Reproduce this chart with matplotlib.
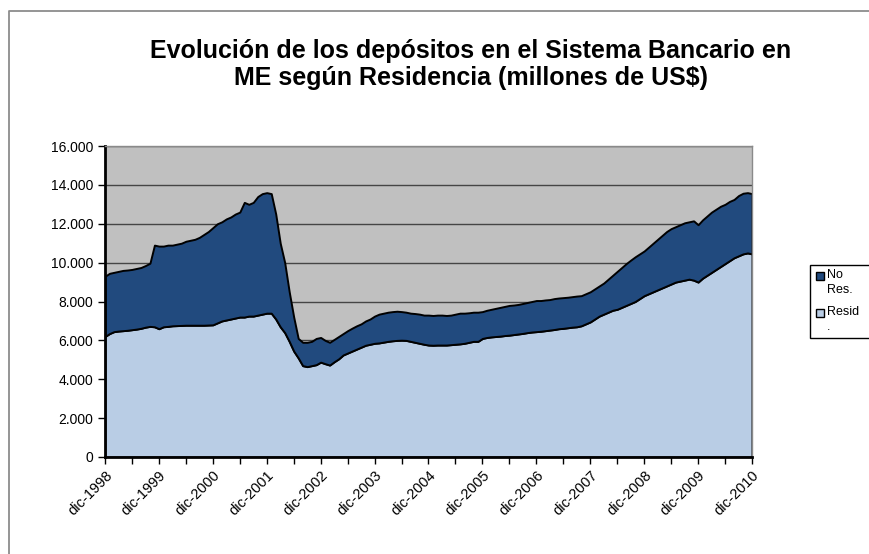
import numpy as np
import pandas as pd
import matplotlib
matplotlib.use("Agg")
import matplotlib.pyplot as plt
from matplotlib.patches import Rectangle
from matplotlib.lines import Line2D

plt.rcParams['font.family'] = ['Liberation Sans', 'DejaVu Sans']

# monthly, dic-1998 .. dic-2010 (millones de US$)
months = pd.date_range("1998-12-01", "2010-12-01", freq="MS")

# total deposits (top of the stack)
total = [9300,
         9450, 9500, 9550, 9600, 9620, 9650, 9700, 9750, 9850, 9970, 10900, 10850,
         10850, 10900, 10900, 10950, 11000, 11100, 11150, 11200, 11300, 11450, 11600, 11800,
         12000, 12100, 12250, 12350, 12500, 12600, 13100, 13000, 13100, 13400, 13550, 13600,
         13550, 12500, 11000, 10000, 8500, 7200, 6100, 5900, 5900, 5950, 6100, 6150,
         6000, 5900, 6050, 6200, 6350, 6500, 6630, 6750, 6850, 7000, 7100, 7250,
         7350, 7400, 7450, 7480, 7500, 7480, 7450, 7400, 7380, 7350, 7300, 7300,
         7280, 7300, 7300, 7280, 7300, 7350, 7400, 7400, 7420, 7450, 7450, 7480,
         7550, 7600, 7650, 7700, 7750, 7800, 7820, 7850, 7900, 7950, 8000, 8050,
         8050, 8080, 8100, 8150, 8180, 8200, 8220, 8250, 8280, 8300, 8400, 8500,
         8650, 8800, 8950, 9150, 9350, 9550, 9750, 9950, 10130, 10300, 10450, 10600,
         10800, 11000, 11200, 11400, 11600, 11750, 11850, 11950, 12050, 12100, 12150, 11950,
         12200, 12400, 12600, 12750, 12900, 13000, 13150, 13250, 13450, 13570, 13600, 13550]

# residents (bottom of the stack)
resid = [6200,
         6350, 6450, 6480, 6500, 6520, 6550, 6580, 6620, 6680, 6720, 6700, 6600,
         6700, 6720, 6750, 6760, 6770, 6780, 6780, 6780, 6780, 6780, 6790, 6800,
         6900, 7000, 7050, 7100, 7150, 7200, 7200, 7250, 7250, 7300, 7350, 7400,
         7400, 7100, 6700, 6400, 5950, 5450, 5100, 4700, 4650, 4700, 4750, 4880,
         4800, 4730, 4900, 5050, 5250, 5350, 5450, 5550, 5650, 5750, 5800, 5850,
         5870, 5910, 5950, 5980, 6000, 6010, 6000, 5950, 5900, 5850, 5800, 5760,
         5750, 5760, 5760, 5760, 5780, 5800, 5820, 5850, 5900, 5950, 5950, 6100,
         6150, 6180, 6200, 6220, 6250, 6270, 6300, 6330, 6360, 6400, 6430, 6450,
         6470, 6500, 6530, 6560, 6600, 6620, 6650, 6680, 6700, 6750, 6850, 6950,
         7100, 7250, 7350, 7450, 7550, 7600, 7700, 7800, 7900, 8000, 8150, 8300,
         8400, 8500, 8600, 8700, 8800, 8900, 9000, 9050, 9100, 9150, 9100, 9000,
         9200, 9350, 9500, 9650, 9800, 9950, 10100, 10250, 10350, 10450, 10500, 10450]

no_res = np.array(total) - np.array(resid)

series_names = ["No\nRes.", "Resid\n."]
yticks = list(range(0, 16001, 2000))
title_lines = ["Evolución de los depósitos en el Sistema Bancario en",
               "ME según Residencia (millones de US$)"]

c_res = "#B9CDE5"
c_nores = "#214A7E"

W, H = 869, 554
fig = plt.figure(figsize=(W / 100, H / 100), dpi=100)

def fx(px):
    return px / W

def fy(py):
    return 1 - py / H

# chart area frame (only top and left visible)
fig.add_artist(Line2D([fx(9), fx(9), 1], [0, fy(11), fy(11)],
                      color="#8c8c8c", lw=1.3))

ax = fig.add_axes([fx(105), fy(457), fx(752 - 105), (457 - 146) / H])
ax.set_facecolor("#C0C0C0")

x = np.arange(len(months))
ax.stackplot(x, resid, no_res, colors=[c_res, c_nores],
             edgecolor="black", linewidth=1.4)

ax.set_xlim(0, len(months) - 1)
ax.set_ylim(0, 16000)
ax.set_yticks(yticks)
ax.set_yticklabels([f"{v:,}".replace(",", ".") for v in yticks], fontsize=10)
ax.yaxis.grid(True, color="#454545", lw=1)
ax.set_axisbelow(True)

lab_pos = [i for i, d in enumerate(months) if d.month == 12]
ax.set_xticks(lab_pos)
ax.set_xticklabels([f"dic-{months[i].year}" for i in lab_pos],
                   rotation=45, ha="right", va="top", rotation_mode="anchor",
                   fontsize=10.5)
ax.set_xticks([i for i, d in enumerate(months) if d.month == 6], minor=True)
ax.tick_params(axis="both", which="both", direction="out", length=5,
               width=1, color="black")
ax.tick_params(axis="x", pad=3)

for s in ["left", "bottom"]:
    ax.spines[s].set_color("black")
    ax.spines[s].set_linewidth(2)
for s in ["top", "right"]:
    ax.spines[s].set_color("#8a8a8a")
    ax.spines[s].set_linewidth(1)

# title
fig.text(fx(471), fy(58), title_lines[0], ha="center", va="baseline",
         fontsize=18, fontweight="bold")
fig.text(fx(471), fy(85), title_lines[1], ha="center", va="baseline",
         fontsize=18, fontweight="bold")

# legend (box runs off the right edge)
fig.add_artist(Rectangle((fx(810), fy(338)), fx(100), (338 - 265) / H,
                         facecolor="white", edgecolor="black", lw=1))
fig.add_artist(Rectangle((fx(816), fy(280)), fx(8), 8 / H,
                         facecolor=c_nores, edgecolor="black", lw=1))
fig.add_artist(Rectangle((fx(816), fy(317)), fx(8), 8 / H,
                         facecolor=c_res, edgecolor="black", lw=1))
fig.text(fx(827), fy(269), series_names[0], ha="left", va="top",
         fontsize=9, linespacing=1.35)
fig.text(fx(827), fy(306), series_names[1], ha="left", va="top",
         fontsize=9, linespacing=1.35)

fig.savefig("out.png", dpi=100)
